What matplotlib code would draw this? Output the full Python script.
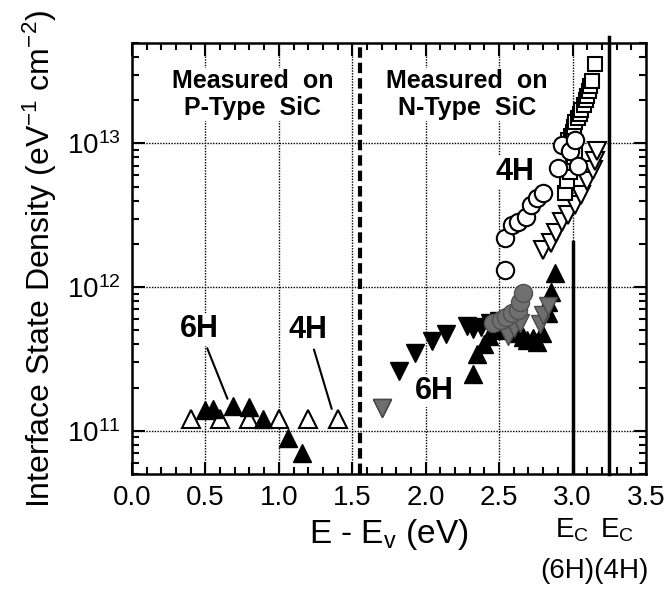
import numpy as np
import matplotlib
matplotlib.use('Agg')
import matplotlib.pyplot as plt
from matplotlib.ticker import MultipleLocator, LogLocator, NullFormatter, FormatStrFormatter

plt.rcParams['font.family'] = ['Liberation Sans', 'DejaVu Sans']
plt.rcParams['mathtext.fontset'] = 'custom'
plt.rcParams['mathtext.rm'] = 'Liberation Sans'
plt.rcParams['mathtext.it'] = 'Liberation Sans:italic'
plt.rcParams['mathtext.bf'] = 'Liberation Sans:bold'

# P-type SiC
p4h_x = [0.40, 0.60, 0.80, 1.00, 1.20, 1.40]
p4h_y = [1.2e11, 1.2e11, 1.2e11, 1.2e11, 1.2e11, 1.2e11]
p6h_x = [0.50, 0.55, 0.69, 0.80, 0.89, 1.06, 1.16]
p6h_y = [1.40e11, 1.42e11, 1.49e11, 1.47e11, 1.21e11, 8.9e10, 7.0e10]

# N-type SiC, 6H
n6h_down_x = [1.70, 1.82, 1.93, 2.04, 2.14, 2.28, 2.32, 2.38, 2.44, 2.50]
n6h_down_y = [1.45e11, 2.6e11, 3.5e11, 4.2e11, 4.7e11, 5.4e11, 5.1e11, 5.3e11, 5.6e11, 5.8e11]
n6h_up_x = [2.32, 2.35, 2.40, 2.43, 2.48, 2.62, 2.66, 2.69, 2.73, 2.76, 2.79, 2.83, 2.83, 2.85, 2.88]
n6h_up_y = [2.5e11, 3.4e11, 4.0e11, 4.6e11, 5.0e11, 4.8e11, 4.5e11, 4.3e11, 4.4e11, 4.15e11, 4.8e11, 6.6e11, 7.9e11, 9.2e11, 1.25e12]
n6h_gray_x = [2.46, 2.51, 2.55, 2.59, 2.63, 2.64, 2.66]
n6h_gray_y = [5.6e11, 5.9e11, 6.2e11, 6.6e11, 6.9e11, 7.9e11, 9.1e11]
n6h_graytri_x = [1.70, 2.56, 2.60, 2.64, 2.78, 2.80, 2.83]
n6h_graytri_y = [1.45e11, 4.6e11, 5.2e11, 5.6e11, 5.5e11, 6.4e11, 7.4e11]

# N-type SiC, 4H
n4h_circ_x = [2.54, 2.54, 2.59, 2.63, 2.68, 2.72, 2.76, 2.80, 2.90, 2.93, 2.98, 3.02, 3.04]
n4h_circ_y = [1.31e12, 2.19e12, 2.7e12, 2.83e12, 3.06e12, 3.7e12, 4.15e12, 4.5e12, 6.7e12, 9.7e12, 8.9e12, 1.05e13, 7.0e12]
n4h_sq_x = [2.95, 2.96, 2.98, 3.00, 3.01, 3.02, 2.97, 2.99, 3.00, 3.01, 3.02, 3.04, 3.05,
            3.06, 3.08, 3.09, 3.10, 3.11, 3.12, 3.13, 3.15]
n4h_sq_y = [4.5e12, 5.5e12, 6.3e12, 7.3e12, 8.0e12, 8.9e12, 1.05e13, 1.12e13, 1.2e13, 1.3e13,
            1.4e13, 1.5e13, 1.6e13, 1.7e13, 1.85e13, 2.0e13, 2.15e13, 2.33e13, 2.5e13, 2.74e13, 3.6e13]
n4h_down_x = [2.80, 2.85, 2.89, 2.93, 2.97, 3.02, 3.06, 3.10, 3.14, 3.15, 3.17]
n4h_down_y = [1.81e12, 2.02e12, 2.37e12, 2.83e12, 3.16e12, 3.7e12, 4.4e12, 5.5e12, 6.5e12, 7.6e12, 8.9e12]

ec_6h = 3.0
ec_4h = 3.25
boundary = 1.55

fig = plt.figure(figsize=(6.68, 5.90), dpi=100)
ax = fig.add_axes([0.1976, 0.1966, 0.7694, 0.7304])
ax.set_yscale('log')
ax.set_xlim(0, 3.5)
ax.set_ylim(5e10, 5e13)

# dotted grid
for gx in [0.5, 1.0, 1.5, 2.0, 2.5, 3.0]:
    ax.axvline(gx, color='k', lw=1.0, ls=(0, (1, 1)), zorder=0)
for gy in [1e11, 1e12, 1e13]:
    ax.axhline(gy, color='k', lw=1.0, ls=(0, (1, 1)), zorder=0)

ax.axvline(boundary, color='k', lw=3, ls=(0, (2.5, 1.2)), zorder=1)
ax.plot([ec_6h, ec_6h], [2.05e12, 5e10], color='k', lw=2.5, zorder=1)
ax.plot([ec_4h, ec_4h], [5.5e13, 5e10], color='k', lw=2.5, zorder=1, clip_on=False)

ms = 12.5
ax.plot(p4h_x, p4h_y, '^', ms=ms, mfc='white', mec='k', mew=1.5, ls='none', zorder=3)
ax.plot(p6h_x, p6h_y, '^', ms=ms, mfc='k', mec='k', ls='none', zorder=3)
ax.plot(n6h_down_x, n6h_down_y, 'v', ms=ms, mfc='k', mec='k', ls='none', zorder=3)
ax.plot(n6h_graytri_x, n6h_graytri_y, 'v', ms=ms, mfc='#6e6e6e', mec='#4a4a4a', ls='none', zorder=4)
ax.plot(n6h_up_x, n6h_up_y, '^', ms=ms, mfc='k', mec='k', ls='none', zorder=3)
ax.plot(n6h_gray_x, n6h_gray_y, 'o', ms=13, mfc='#707070', mec='#505050', ls='none', zorder=4)
ax.plot(n4h_down_x, n4h_down_y, 'v', ms=ms, mfc='white', mec='k', mew=1.5, ls='none', zorder=3)
ax.plot(n4h_sq_x, n4h_sq_y, 's', ms=10, mfc='white', mec='k', mew=1.5, ls='none', zorder=3)
ax.plot(n4h_circ_x, n4h_circ_y, 'o', ms=12.5, mfc='white', mec='k', mew=1.5, ls='none', zorder=3)

box = dict(facecolor='white', edgecolor='none', pad=1)
ax.text(0.82, 2.19e13, 'Measured  on\nP-Type  SiC', ha='center', va='center',
        fontsize=18, fontweight='bold', linespacing=1.15, bbox=box, zorder=2)
ax.text(2.28, 2.19e13, 'Measured  on\nN-Type  SiC', ha='center', va='center',
        fontsize=18, fontweight='bold', linespacing=1.15, bbox=box, zorder=2)
ax.text(2.61, 6.3e12, '4H', ha='center', va='center', fontsize=22,
        fontweight='bold', bbox=box, zorder=2)
ax.text(2.06, 1.9e11, '6H', ha='center', va='center', fontsize=22,
        fontweight='bold', bbox=box, zorder=2)
ax.annotate('6H', xy=(0.65, 1.67e11), xytext=(0.46, 5.1e11), ha='center', va='center',
            fontsize=22, fontweight='bold', bbox=box, zorder=2,
            arrowprops=dict(arrowstyle='-', color='k', lw=1.5, shrinkA=2, shrinkB=0))
ax.annotate('4H', xy=(1.36, 1.42e11), xytext=(1.20, 5.0e11), ha='center', va='center',
            fontsize=22, fontweight='bold', bbox=box, zorder=2,
            arrowprops=dict(arrowstyle='-', color='k', lw=1.5, shrinkA=2, shrinkB=0))

# axes and ticks
for s in ax.spines.values():
    s.set_linewidth(1.8)
ax.xaxis.set_major_locator(MultipleLocator(0.5))
ax.xaxis.set_minor_locator(MultipleLocator(0.1))
ax.xaxis.set_major_formatter(FormatStrFormatter('%.1f'))
ax.yaxis.set_major_locator(LogLocator(base=10, numticks=10))
ax.yaxis.set_minor_locator(LogLocator(base=10, subs=np.arange(2, 10), numticks=20))
ax.yaxis.set_minor_formatter(NullFormatter())
ax.tick_params(which='both', direction='in', top=True, right=True, labelsize=20, width=1.5)
ax.tick_params(which='major', length=9, pad=8)
ax.tick_params(which='minor', length=5)

ax.set_xlabel('E - E$_\\mathregular{v}$ (eV)', fontsize=24, labelpad=4)
ax.set_ylabel('Interface State Density (eV$^\\mathregular{-1}$ cm$^\\mathregular{-2}$)',
              fontsize=23, labelpad=6)

ax.text(ec_6h, -0.13, 'E$_\\mathregular{C}$', transform=ax.get_xaxis_transform(),
        ha='center', va='center', fontsize=20)
ax.text(3.3, -0.13, 'E$_\\mathregular{C}$', transform=ax.get_xaxis_transform(),
        ha='center', va='center', fontsize=20)
ax.text(3.15, -0.225, '(6H)(4H)', transform=ax.get_xaxis_transform(),
        ha='center', va='center', fontsize=20)

fig.savefig('out.png', dpi=100)
